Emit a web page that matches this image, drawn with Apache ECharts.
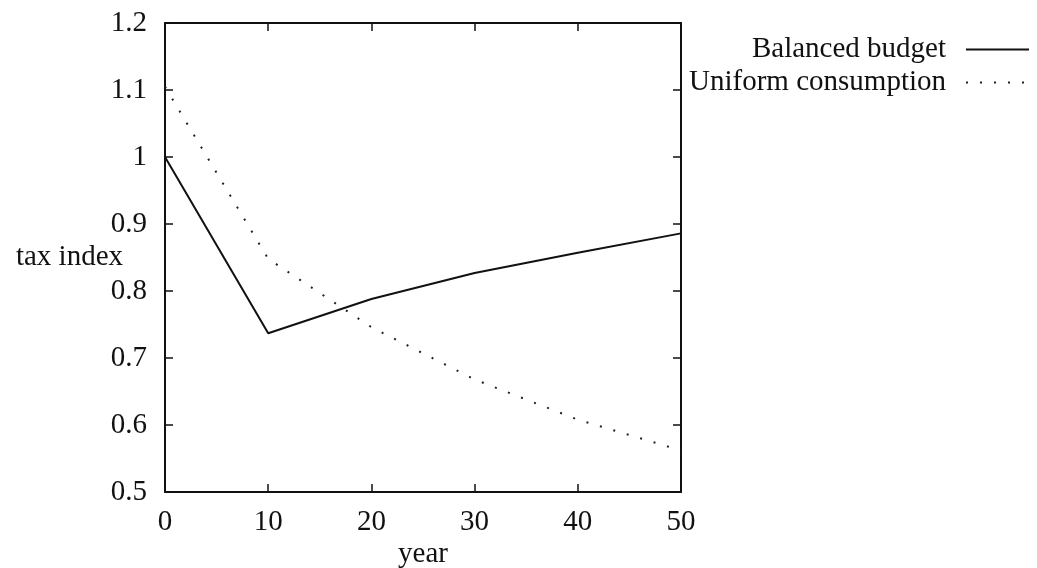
<!DOCTYPE html>
<html>
<head>
<meta charset="utf-8">
<script src="https://cdn.jsdelivr.net/npm/echarts@6/dist/echarts.min.js"></script>
<style>
  html, body { margin: 0; padding: 0; background: #fff; }
  #chart { width: 1037px; height: 568px; }
</style>
</head>
<body>
<div id="chart"></div>
<script>
  const years = [0, 10, 20, 30, 40, 50];
  const balancedBudget = [1.0, 0.737, 0.788, 0.827, 0.857, 0.886];
  const uniformConsumption = [1.105, 0.848, 0.746, 0.668, 0.608, 0.562];
  const yTicks = [0.5, 0.6, 0.7, 0.8, 0.9, 1, 1.1, 1.2];

  const font = 'Liberation Serif';
  const fs = 29;
  const ink = '#111';

  function pairs(ys) {
    return years.map((x, i) => [x, ys[i]]);
  }

  const chart = echarts.init(document.getElementById('chart'));

  const tickStyle = { show: true, inside: true, length: 8, lineStyle: { color: ink, width: 1.5 } };
  const lineOn = { show: true, onZero: false, lineStyle: { color: ink, width: 2 } };

  function legendFor(name, top) {
    return {
      data: [name],
      right: 7,
      top: top,
      padding: 0,
      align: 'right',
      itemWidth: 63,
      itemHeight: 14,
      itemGap: 0,
      itemStyle: { opacity: 0 },
      textStyle: { fontFamily: font, fontSize: fs, color: ink, padding: [0, 15, 0, 0] },
    };
  }

  chart.setOption({
    animation: false,
    backgroundColor: '#fff',
    textStyle: { fontFamily: font },
    grid: { left: 165, right: 356, top: 23, bottom: 76, outerBoundsMode: 'none', containLabel: false },
    legend: [
      legendFor('Balanced budget', 35),
      legendFor('Uniform consumption', 68),
    ],
    xAxis: [
      {
        type: 'value',
        min: 0,
        max: 50,
        interval: 10,
        name: 'year',
        nameLocation: 'middle',
        nameGap: 48,
        nameMoveOverlap: false,
        nameTextStyle: { fontFamily: font, fontSize: fs, color: ink },
        axisLine: lineOn,
        axisTick: tickStyle,
        axisLabel: { margin: 16, fontSize: fs, color: ink, fontFamily: font },
        splitLine: { show: false },
      },
      {
        type: 'value',
        position: 'top',
        min: 0,
        max: 50,
        interval: 10,
        axisLine: lineOn,
        axisTick: tickStyle,
        axisLabel: { show: false },
        splitLine: { show: false },
      },
    ],
    yAxis: [
      {
        type: 'value',
        min: 0.5,
        max: 1.2,
        interval: 0.1,
        name: 'tax index',
        nameLocation: 'middle',
        nameRotate: 0,
        nameGap: 42,
        nameMoveOverlap: false,
        nameTextStyle: { fontFamily: font, fontSize: fs, color: ink },
        axisLine: lineOn,
        axisTick: tickStyle,
        axisLabel: {
          margin: 18,
          fontSize: fs,
          color: ink,
          fontFamily: font,
          formatter: v => {
            const t = yTicks.find(k => Math.abs(k - v) < 1e-6);
            return t === undefined ? '' : String(t);
          },
        },
        splitLine: { show: false },
      },
      {
        type: 'value',
        position: 'right',
        min: 0.5,
        max: 1.2,
        interval: 0.1,
        axisLine: lineOn,
        axisTick: tickStyle,
        axisLabel: { show: false },
        splitLine: { show: false },
      },
    ],
    series: [
      {
        name: 'Balanced budget',
        type: 'line',
        data: pairs(balancedBudget),
        symbol: 'none',
        lineStyle: { color: ink, width: 2 },
        itemStyle: { color: ink },
      },
      {
        name: 'Uniform consumption',
        type: 'line',
        data: pairs(uniformConsumption),
        symbol: 'none',
        lineStyle: { color: '#222', width: 2, type: [2, 12] },
        itemStyle: { color: '#222' },
      },
    ],
  });
</script>
</body>
</html>
